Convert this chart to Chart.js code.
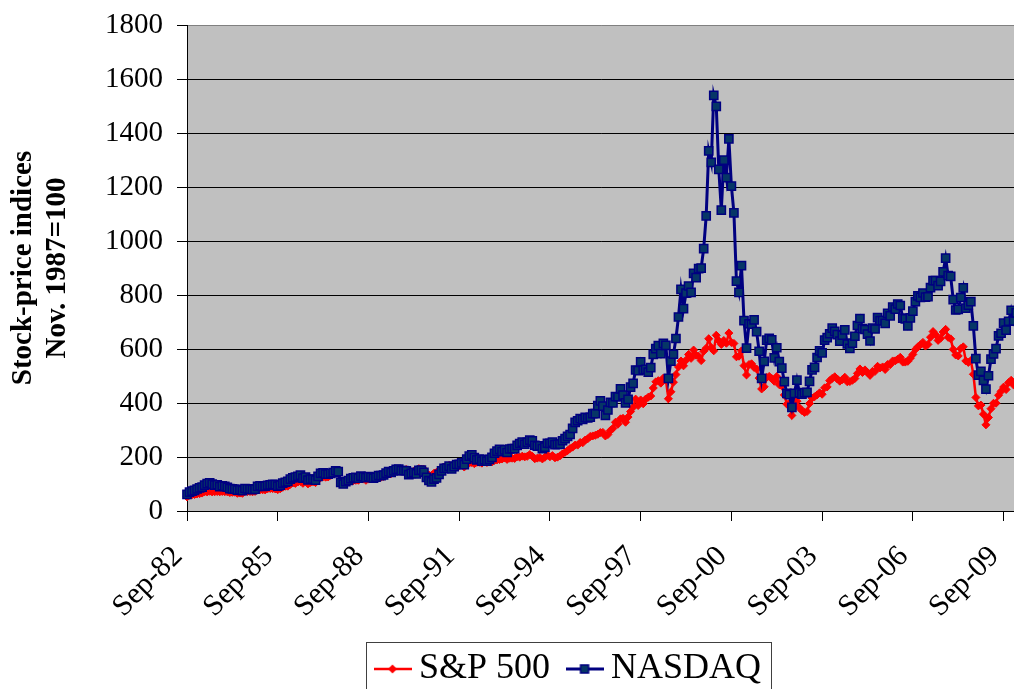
<!DOCTYPE html>
<html>
<head>
<meta charset="utf-8">
<script src="https://cdn.jsdelivr.net/npm/chart.js@4.4.1/dist/chart.umd.min.js"></script>
<style>
html,body{margin:0;padding:0;background:#fff;overflow:hidden}
#wrap{width:1014px;height:689px;position:relative;overflow:hidden}
</style>
</head>
<body>
<div id="wrap"><canvas id="c" width="1023" height="689"></canvas></div>
<script>
// Monthly points, index 0 = Sep-82 ... index 330 = Mar-10
const xTickLabels = ['Sep-82','Sep-85','Sep-88','Sep-91','Sep-94','Sep-97','Sep-00','Sep-03','Sep-06','Sep-09'];
const yTickValues = [0,200,400,600,800,1000,1200,1400,1600,1800];
const seriesNames = ['S&P 500','NASDAQ'];
const yTitle = ['Stock-price indices','Nov. 1987=100'];

const sp500 = [
52.3,58.1,60.2,61.1,
63.1,64.3,66.4,71.4,70.5,73.0,70.6,71.4,72.1,71.0,72.3,71.6,
71.0,68.2,69.1,69.5,65.4,66.5,65.4,72.4,72.1,72.1,71.0,72.6,
78.0,78.7,78.4,78.1,82.3,83.3,82.9,81.9,79.1,82.4,87.8,91.7,
92.0,98.5,103.7,102.3,107.4,108.9,102.5,109.8,100.4,105.9,108.2,105.2,
119.0,123.4,126.7,125.2,126.0,132.0,138.4,143.2,139.7,109.3,100.0,107.3,
111.6,116.3,112.4,113.5,113.8,118.8,118.1,113.6,118.1,121.1,118.8,120.6,
129.2,125.4,128.0,134.5,139.2,138.1,150.3,152.6,151.6,147.8,150.2,153.5,
142.9,144.1,147.6,143.6,156.9,155.5,154.6,140.1,132.9,132.0,139.9,143.4,
149.3,159.4,162.9,163.0,169.3,161.2,168.4,171.7,168.4,170.4,162.9,181.1,
177.5,179.2,175.3,180.2,180.4,177.2,184.2,179.8,181.4,181.8,187.3,189.2,
190.5,192.5,196.1,191.1,195.5,195.6,194.6,201.3,199.3,203.1,200.5,202.5,
209.1,202.8,193.6,195.8,198.2,192.9,199.0,206.5,200.9,205.1,197.0,199.4,
204.3,211.6,217.4,223.5,231.6,236.5,244.1,244.0,253.8,252.5,262.9,267.4,
276.2,278.1,280.3,284.1,290.5,291.2,277.9,283.1,298.4,306.2,328.7,321.6,
341.4,343.4,328.8,348.0,368.3,384.3,414.4,390.6,411.3,397.1,414.8,421.4,
425.7,455.6,478.4,482.7,473.6,492.3,486.6,415.7,441.6,477.1,505.3,533.7,
555.6,537.7,558.6,579.8,565.3,596.1,577.0,573.3,557.0,591.8,603.1,638.0,
605.5,593.3,650.7,630.7,616.8,631.6,621.3,659.0,623.8,620.7,571.0,573.3,
593.1,538.4,503.8,542.5,545.3,531.7,525.9,492.2,452.0,460.2,494.8,498.5,
490.7,480.6,498.2,467.6,463.4,429.8,395.8,397.8,354.0,384.6,406.6,382.0,
371.6,365.2,368.3,398.1,418.4,423.1,430.0,437.7,432.5,456.2,459.5,482.8,
491.2,497.2,489.0,480.8,486.6,495.4,478.4,479.5,484.0,490.7,509.7,526.2,
512.9,522.6,512.6,502.3,517.4,517.3,535.9,529.9,533.6,524.1,542.5,542.0,
555.8,556.1,562.2,569.1,551.5,551.5,554.3,566.1,580.0,598.3,608.2,615.8,
624.5,610.9,617.0,643.7,664.6,652.8,631.9,640.0,662.9,672.8,643.1,637.6,
598.6,577.8,574.3,601.6,608.1,555.8,550.3,557.0,506.4,420.6,389.2,392.2,
358.6,319.2,346.4,379.0,399.1,399.2,428.8,443.2,459.0,449.9,475.7,484.2,
466.3,479.6,507.8
];

const nasdaq = [
61.5,69.7,73.8,76.2,
81.4,85.4,88.7,96.0,101.2,104.4,99.6,95.8,97.2,90.1,93.6,91.3,
88.0,82.8,82.2,81.1,77.3,78.5,75.7,83.4,81.9,81.0,79.5,81.1,
91.3,93.1,91.5,91.9,95.3,97.1,98.7,97.6,91.9,95.9,102.9,106.5,
110.0,117.8,122.8,125.6,128.7,132.9,121.7,125.5,114.9,118.2,117.8,114.3,
128.5,139.3,140.9,136.9,136.5,139.2,142.5,149.1,145.6,105.9,100.0,108.3,
112.9,120.2,122.8,124.3,121.4,129.3,126.9,123.4,127.1,125.3,121.7,125.0,
131.5,131.0,133.3,140.3,146.2,142.6,148.7,153.8,155.0,149.3,149.5,149.0,
134.6,139.5,142.7,137.7,150.4,151.5,143.6,124.9,112.9,108.1,117.7,122.5,
135.7,148.5,158.0,158.8,165.9,156.0,164.5,172.3,172.7,177.9,171.7,192.1,
203.2,207.6,197.9,189.6,191.8,184.7,190.3,184.5,191.1,198.3,213.9,221.8,
228.2,219.8,226.2,216.7,229.6,230.7,230.9,243.4,250.0,255.4,247.2,254.6,
262.3,259.7,243.6,240.5,240.9,231.3,236.7,250.9,250.5,254.8,245.9,246.4,
247.5,260.1,267.8,276.6,283.3,305.9,328.1,334.3,342.0,339.5,347.1,344.8,
347.3,360.5,360.9,390.1,407.5,388.3,354.1,374.1,402.1,400.3,423.6,423.1,
452.2,429.0,400.3,413.1,458.9,472.6,522.3,520.2,552.4,522.2,524.5,514.6,
530.7,580.2,601.5,612.3,582.9,620.9,613.6,491.3,555.1,580.5,638.9,718.5,
821.2,749.8,806.6,833.3,809.6,880.2,864.6,897.7,899.9,972.1,1093.2,1333.5,
1291.2,1539.1,1498.5,1265.1,1114.5,1299.7,1234.4,1378.4,1203.6,1104.2,851.3,809.6,
908.6,705.1,603.0,693.5,691.6,708.0,664.3,591.6,491.2,553.9,632.6,639.1,
633.8,567.4,604.7,553.2,529.5,479.5,435.3,430.9,384.1,435.8,484.6,437.6,
432.9,438.3,439.5,479.8,523.0,531.8,568.6,593.3,585.6,633.2,642.4,656.5,
677.1,665.2,653.5,629.2,651.0,671.1,618.5,602.3,621.6,647.2,687.1,712.9,
675.8,672.3,655.1,629.7,677.7,674.1,716.0,705.2,705.1,694.8,731.7,722.7,
755.6,747.6,766.7,761.1,714.0,711.8,685.4,715.6,740.1,775.6,796.9,791.5,
807.4,791.8,793.6,827.5,853.5,853.1,834.4,850.8,885.3,936.9,872.0,869.1,
783.2,744.4,746.9,790.7,826.7,751.4,762.1,775.8,685.5,564.0,503.2,516.8,
483.8,451.5,500.9,562.8,581.4,601.3,648.4,658.4,695.5,670.2,702.8,743.6,
703.7,733.5,785.8
];

const SERIF = "'Times New Roman', 'Liberation Serif', serif";
const MONTHS_PER_TICK = 36;
const X_MAX = 328.8;

const toXY = arr => arr.map((v, i) => ({x: i, y: v}));

function legendIcon(kind) {
  const c = document.createElement('canvas');
  c.width = 38; c.height = 12;
  const g = c.getContext('2d');
  if (kind === 'sp') {
    g.strokeStyle = '#FF0000'; g.lineWidth = 2.5;
    g.beginPath(); g.moveTo(0, 6); g.lineTo(38, 6); g.stroke();
    g.fillStyle = '#FF0000';
    g.beginPath(); g.moveTo(19, 1.5); g.lineTo(23.5, 6); g.lineTo(19, 10.5); g.lineTo(14.5, 6); g.closePath(); g.fill();
  } else {
    g.strokeStyle = '#000080'; g.lineWidth = 3;
    g.beginPath(); g.moveTo(0, 6); g.lineTo(38, 6); g.stroke();
    g.fillStyle = '#063666'; g.fillRect(15, 2, 8, 8);
    g.strokeStyle = '#000080'; g.lineWidth = 1.5; g.strokeRect(15, 2, 8, 8);
  }
  return c;
}
const iconSP = legendIcon('sp');
const iconNQ = legendIcon('nq');

const decoPlugin = {
  id: 'deco',
  beforeDraw(chart) {
    const {ctx, chartArea: a} = chart;
    ctx.save();
    ctx.fillStyle = '#FFFFFF';
    ctx.fillRect(0, 0, chart.width, chart.height);
    ctx.fillStyle = '#C0C0C0';
    ctx.fillRect(a.left, a.top, a.right - a.left, a.bottom - a.top);
    ctx.restore();
  },
  afterLayout(chart) {
    const L = chart.legend;
    if (!L) return;
    L.left = 358; L.right = 1014; L.top = 625;
  },
  afterDraw(chart) {
    const ctx = chart.ctx;
    ctx.save();
    ctx.strokeStyle = '#404040';
    ctx.lineWidth = 1;
    ctx.strokeRect(366.5, 642.5, 405, 60);
    ctx.restore();
  }
};

new Chart(document.getElementById('c'), {
  type: 'line',
  data: {
    datasets: [
      {
        label: seriesNames[1],
        data: toXY(nasdaq),
        borderColor: '#000080',
        borderWidth: 3,
        pointStyle: 'rect',
        pointRadius: 5.8,
        pointBackgroundColor: '#063666',
        pointBorderColor: '#000080',
        pointBorderWidth: 1.5,
        tension: 0,
        fill: false,
        clip: false
      },
      {
        label: seriesNames[0],
        data: toXY(sp500),
        borderColor: '#FF0000',
        borderWidth: 2.5,
        pointStyle: 'rectRot',
        pointRadius: 4,
        pointBackgroundColor: '#FF0000',
        pointBorderColor: '#FF0000',
        pointBorderWidth: 1,
        tension: 0,
        fill: false,
        clip: false
      }
    ]
  },
  options: {
    responsive: false,
    animation: false,
    events: [],
    devicePixelRatio: 1,
    layout: { padding: { left: 0, right: 0, top: 25, bottom: 0 } },
    plugins: {
      tooltip: { enabled: false },
      legend: {
        display: true,
        position: 'bottom',
        align: 'start',
        labels: {
          usePointStyle: true,
          pointStyleWidth: 17,
          padding: 26,
          color: '#000',
          font: { family: SERIF, size: 36 },
          generateLabels: () => [
            { text: seriesNames[0], pointStyle: iconSP, fillStyle: '#FF0000', strokeStyle: '#FF0000', lineWidth: 0, hidden: false, datasetIndex: 1 },
            { text: seriesNames[1], pointStyle: iconNQ, fillStyle: '#063666', strokeStyle: '#000080', lineWidth: 0, hidden: false, datasetIndex: 0 }
          ]
        }
      }
    },
    scales: {
      x: {
        type: 'linear',
        min: 0,
        max: X_MAX,
        afterBuildTicks: s => { s.ticks = xTickLabels.map((_, i) => ({ value: i * MONTHS_PER_TICK })); },
        afterFit: s => {
          const lh = s.chart.legend ? s.chart.legend.height : 0;
          s.height = 689 - 511 - lh;
          s.paddingLeft = 0; s.paddingRight = 0;
        },
        grid: { drawOnChartArea: false, drawTicks: true, tickLength: 10, tickColor: '#000', color: '#000' },
        border: { display: true, color: '#000', width: 1 },
        ticks: {
          autoSkip: false, maxRotation: 45, minRotation: 45, padding: 18, labelOffset: -9,
          color: '#000', font: { family: SERIF, size: 30 },
          callback: (v, i) => xTickLabels[i]
        }
      },
      y: {
        min: 0,
        max: 1800,
        afterBuildTicks: s => { s.ticks = yTickValues.map(v => ({ value: v })); },
        afterFit: s => { s.width = 187; s.paddingTop = 0; s.paddingBottom = 0; },
        grid: {
          color: c => (c.tick && c.tick.value === 1800) ? '#808080' : '#000000',
          tickColor: '#000', tickLength: 10, lineWidth: 1
        },
        border: { display: true, color: '#000', width: 1 },
        ticks: { color: '#000', padding: 14, font: { family: SERIF, size: 29 }, callback: v => String(v) },
        title: {
          display: true, text: yTitle, color: '#000',
          font: { family: SERIF, size: 29, weight: 'bold', lineHeight: 1.17 },
          padding: { top: 7, bottom: 0 }
        }
      }
    }
  },
  plugins: [decoPlugin]
});
</script>
</body>
</html>
